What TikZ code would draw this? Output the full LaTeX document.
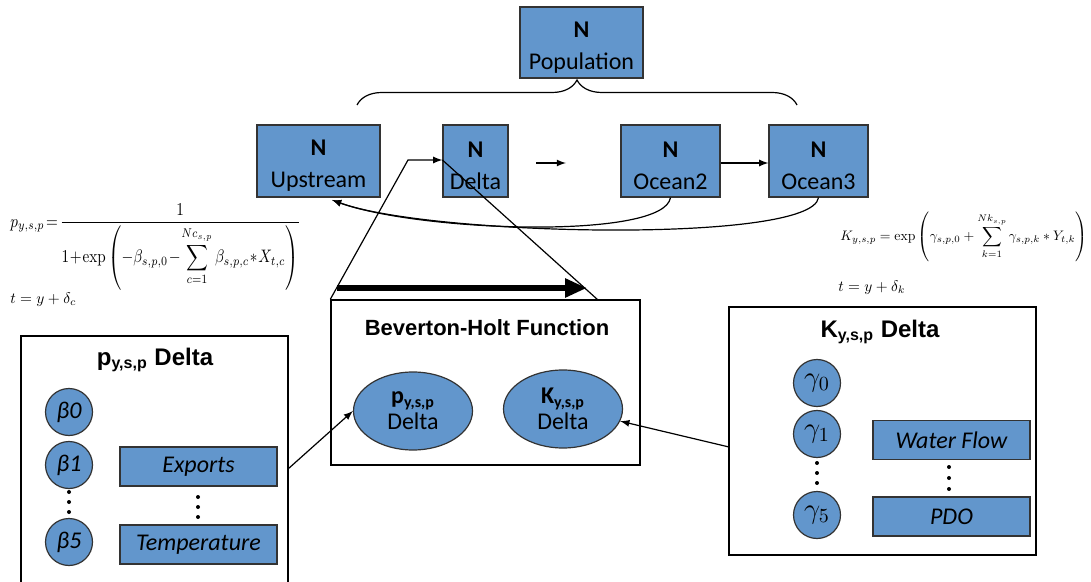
\documentclass[tikz,border=0pt]{standalone}
\usepackage[no-math]{fontspec}
\setmainfont{Carlito}
\newfontfamily\arialfont{Liberation Sans}
\usetikzlibrary{shapes.geometric,decorations.pathreplacing,arrows.meta}
\definecolor{boxblue}{RGB}{98,150,204}
\newcommand\Ntop{\rule{0pt}{12.5pt}\textbf{N}}

\tikzset{
  nbox/.style={draw=black!80, fill=boxblue, line width=0.6pt, inner sep=0pt,
    align=center, minimum height=36pt, font=\fontsize{12}{16}\selectfont},
  frame/.style={draw, line width=0.7pt},
  coef/.style={circle, draw=black!80, fill=boxblue, line width=0.6pt,
    minimum size=23.5pt, inner sep=0pt, font=\fontsize{12}{14}\selectfont\itshape},
  covar/.style={draw=black!80, fill=boxblue, line width=0.6pt, minimum width=78.5pt,
    minimum height=19.5pt, inner sep=0pt, font=\fontsize{12}{14}\selectfont\itshape},
  param/.style={ellipse, draw=black!80, fill=boxblue, line width=0.6pt,
    minimum width=59.5pt, minimum height=39pt, inner sep=0pt, align=center,
    font=\fontsize{12}{13}\selectfont},
  boxtitle/.style={font=\arialfont\bfseries\fontsize{12}{14}\selectfont},
  formula/.style={anchor=north west, inner sep=0pt},
  link/.style={->, line width=0.6pt},
}

\begin{document}
\begin{tikzpicture}[x=0.5pt,y=-0.5pt,>=latex]
\useasboundingbox (0,0) rectangle (1091,582);

% population and stages
\node[nbox, minimum width=61.5pt, minimum height=35.5pt] (pop) at (581.5,42.5) {\Ntop\\Population};
\draw[line width=0.6pt, decorate, decoration={brace, amplitude=12.5pt}] (357,105) -- (797,105);
\node[nbox, minimum width=61.5pt] (up) at (318.5,161) {\Ntop\\Upstream};
\node[nbox, minimum width=32.5pt] (delta) at (475.5,161) {\Ntop\\Delta};
\node[nbox, minimum width=49.5pt] (oc2) at (670.5,161) {\Ntop\\Ocean2};
\node[nbox, minimum width=49.5pt] (oc3) at (818.5,161) {\Ntop\\Ocean3};

\coordinate (gap1) at (536,163);
\coordinate (gap2) at (566,163);
\draw[link] (gap1) -- (gap2);
\draw[link] (oc2.east |- gap1) -- (oc3.west |- gap1);
\coordinate (upin) at (332,200);
\draw[link] (oc2.south) .. controls (664,240) and (420,232) .. (upin);
\draw[link] (oc3.south) .. controls (812,244) and (430,236) .. (upin);

% equations
\node[formula] (peq) at (10,203)
  {\resizebox*{145pt}{43.5pt}{\medmuskip=1mu\thickmuskip=2mu$\displaystyle p_{y,s,p}=\frac{1}{1+\exp\left(-\beta_{s,p,0}-\displaystyle\sum_{c=1}^{Nc_{s,p}}\beta_{s,p,c}*X_{t,c}\right)}$}};
\node[formula] (pt) at (10,292) {\resizebox{33pt}{!}{$t=y+\delta_c$}};
\node[formula] (keq) at (840,212)
  {\resizebox{123.5pt}{!}{$\displaystyle K_{y,s,p}=\exp\left(\gamma_{s,p,0}+\sum_{k=1}^{Nk_{s,p}}\gamma_{s,p,k}*Y_{t,k}\right)$}};
\node[formula] (kt) at (838,280) {\resizebox{33.5pt}{!}{$t=y+\delta_k$}};

% Beverton-Holt box
\node[frame, minimum width=154.5pt, minimum height=82.5pt, inner sep=0pt] (bh) at (485.5,382.5) {};
\node[boxtitle, font=\arialfont\bfseries\fontsize{11}{13}\selectfont] (bhtitle) at (487,328) {Beverton-Holt Function};
\node[param] (pell) at (413,411) {\textbf{p\textsubscript{y,s,p}}\\Delta};
\node[param] (kell) at (563,409) {\textbf{K\textsubscript{y,s,p}}\\Delta};
\draw[line width=3pt, -{Triangle[length=11pt,width=9pt]}] (337,288) -- (587,288);
\coordinate (bend) at (408,160);
\coordinate (tipd) at (delta.west |- bend);
\coordinate (bhcut) at (598,300);
\draw[link] (bh.north west) -- (bend) -- (tipd);
\draw[line width=0.6pt] (tipd) -- (bhcut);

% p box
\draw[frame] (21,590) -- (21,336) -- (288,336) -- (288,590);
\node[boxtitle] (ptitle) at (155,360) {p\textsubscript{y,s,p} Delta};
\node[coef] (b0) at (69,412) {β0};
\node[coef] (b1) at (69,465) {β1};
\node[coef] (b5) at (69,542) {β5};
\node[covar] (exp) at (198.5,466.5) {Exports};
\node[covar] (temp) at (198.5,544.5) {Temperature};
\foreach \y in {492,502,512}{
  \fill (69,\y) circle (2);
}
\foreach \y in {497,507,517}{
  \fill (198,\y) circle (2);
}
\coordinate (pout) at (288,469);
\draw[link] (pout) -- (pell.west);

% K box
\node[frame, minimum width=153.5pt, minimum height=124pt, inner sep=0pt] (kbox) at (882.5,431) {};
\node[boxtitle] (ktitle) at (880,332) {K\textsubscript{y,s,p} Delta};
\node[coef, font=\fontsize{14}{16}\selectfont] (g0) at (817,383) {$\gamma_0$};
\node[coef, font=\fontsize{14}{16}\selectfont] (g1) at (817,434) {$\gamma_1$};
\node[coef, font=\fontsize{14}{16}\selectfont] (g5) at (817,515) {$\gamma_5$};
\node[covar] (flow) at (951.5,440) {Water Flow};
\node[covar] (pdo) at (951.5,516.5) {PDO};
\foreach \y in {463,473,483}{
  \fill (817,\y) circle (2);
}
\foreach \y in {467,478,489}{
  \fill (949,\y) circle (2);
}
\coordinate (kout) at (729,447);
\draw[link] (kout) -- (kell.-12);
\end{tikzpicture}
\end{document}
